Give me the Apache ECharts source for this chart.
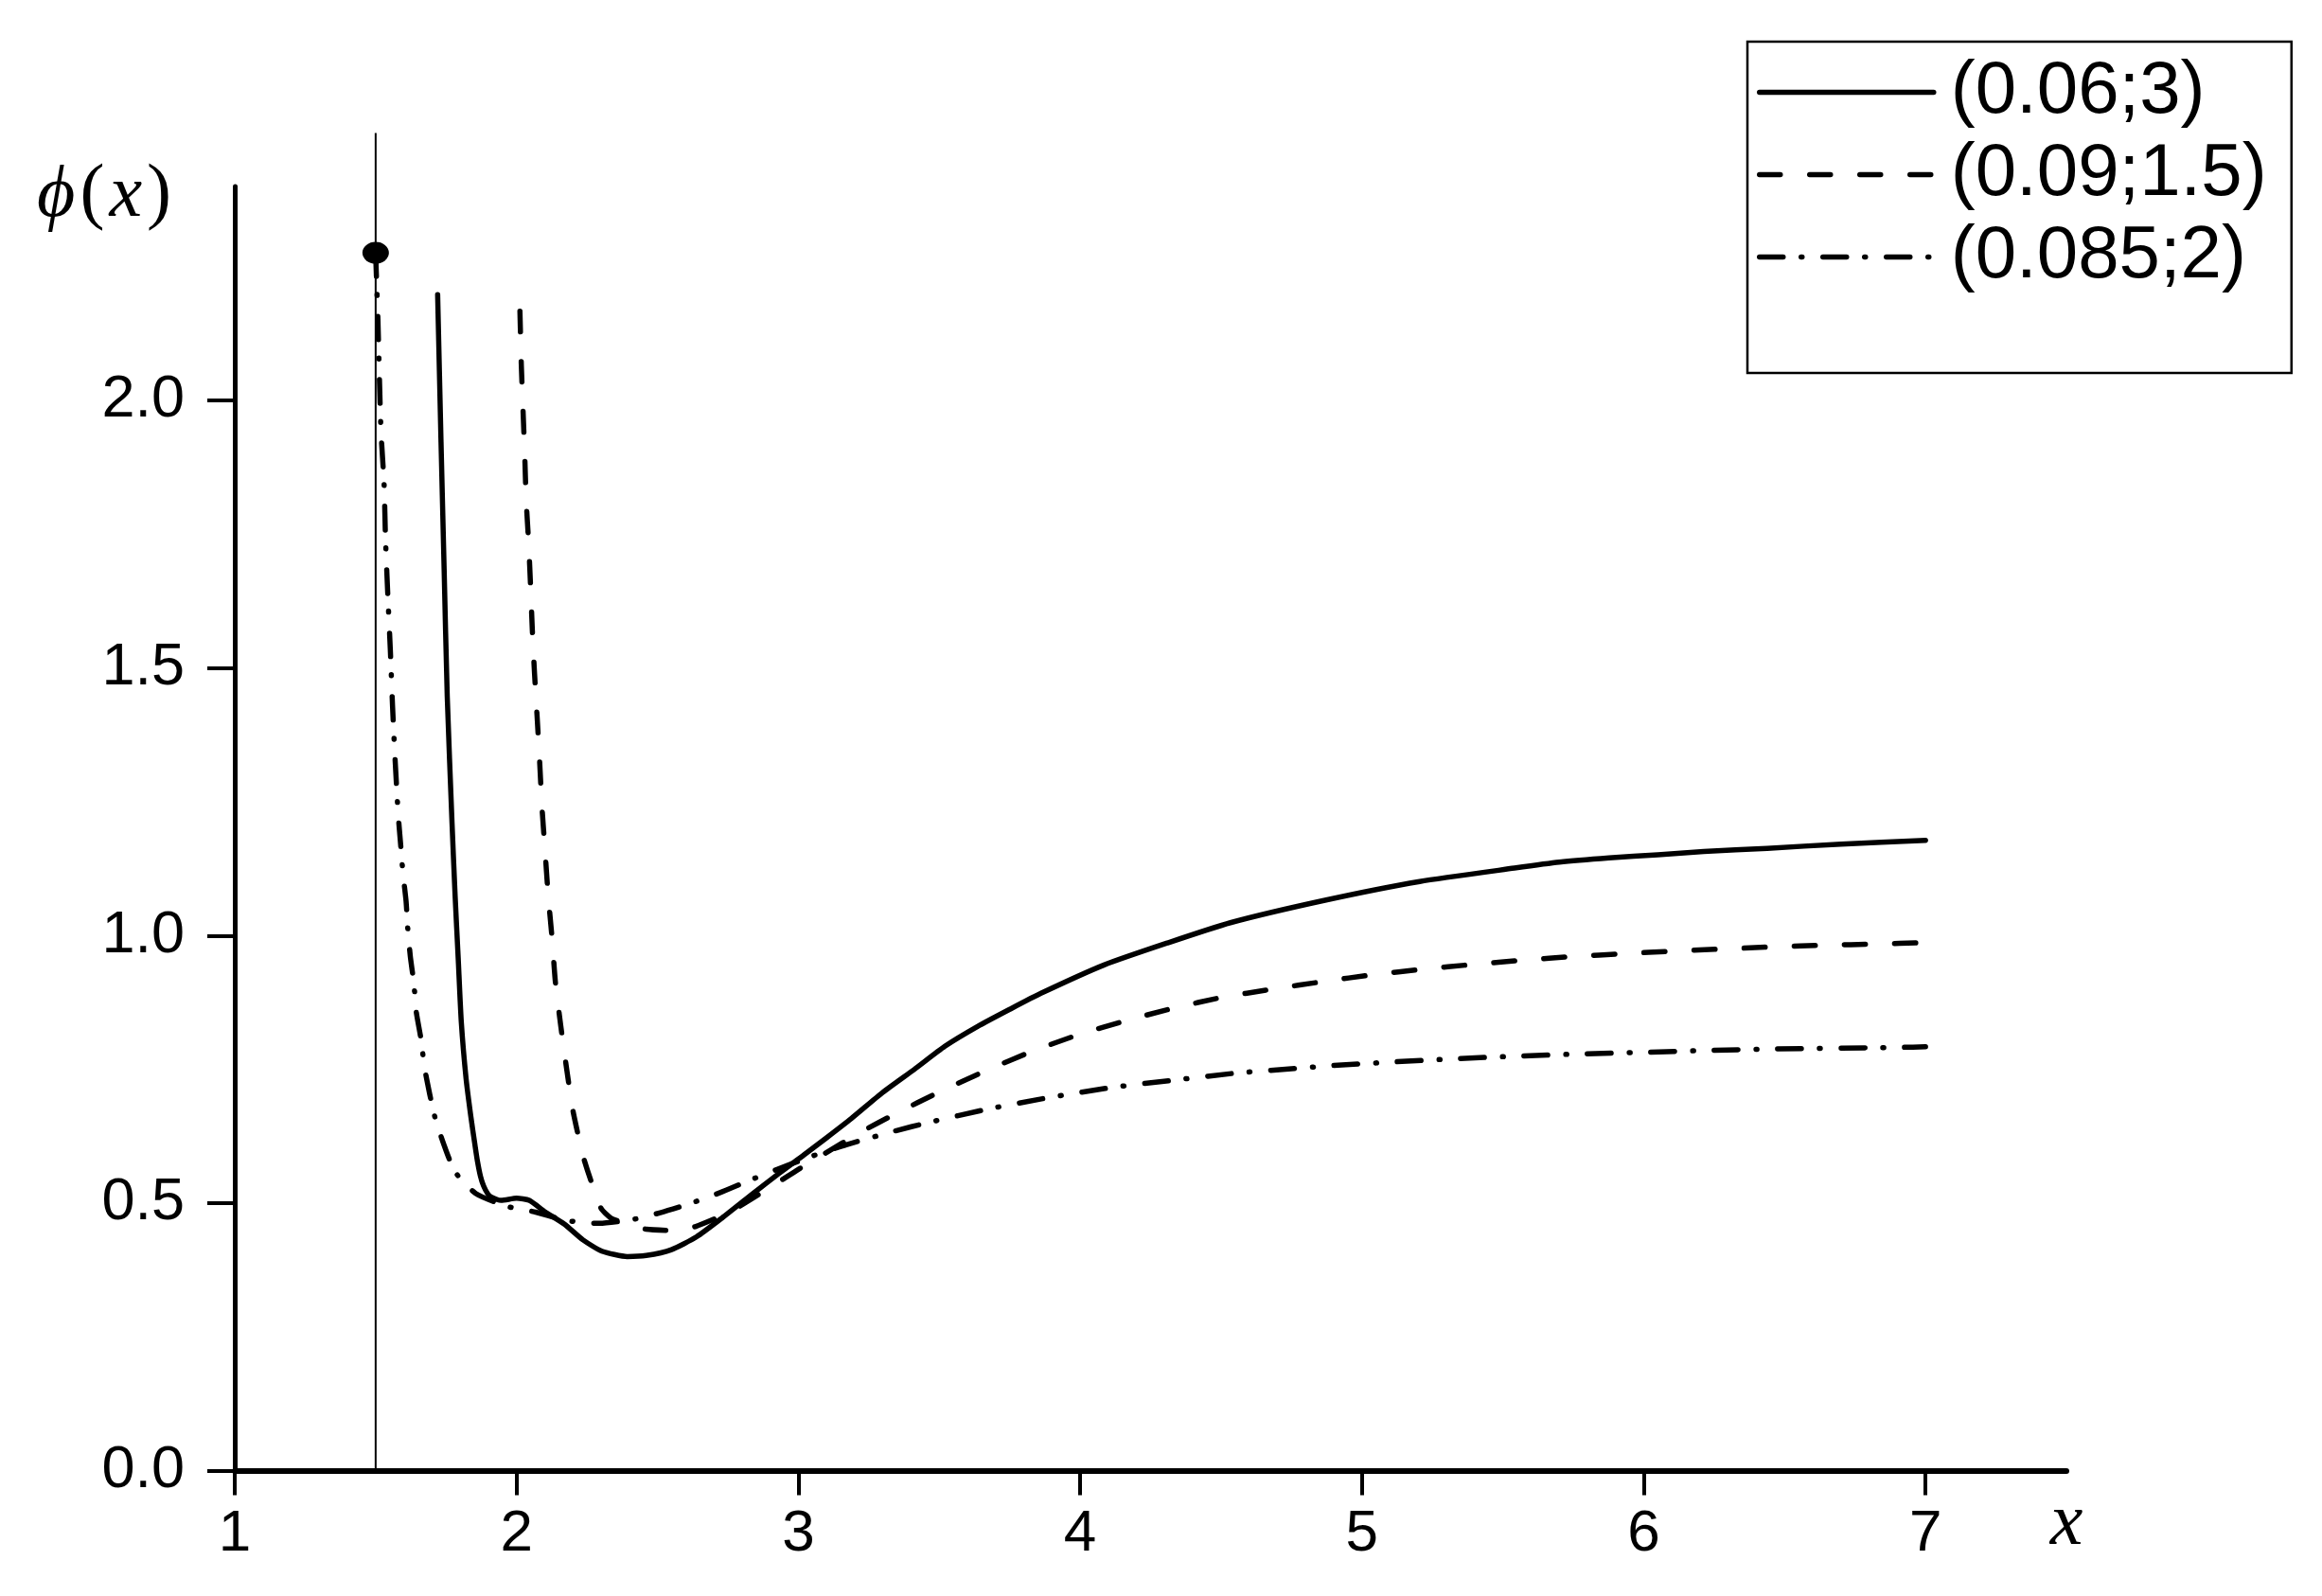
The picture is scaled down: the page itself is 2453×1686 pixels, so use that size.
<!DOCTYPE html>
<html>
<head>
<meta charset="utf-8">
<script src="https://cdn.jsdelivr.net/npm/echarts@6/dist/echarts.min.js"></script>
<style>
  html, body { margin: 0; padding: 0; background: #fff; }
  #chart { width: 2453px; height: 1686px; }
</style>
</head>
<body>
<div id="chart"></div>
<script>
// legend labels
const seriesNames = ['(0.06;3)', '(0.09;1.5)', '(0.085;2)']

// tick values
const xTicks = [1, 2, 3, 4, 5, 6, 7]
const yTicks = [0, 0.5, 1.0, 1.5, 2.0]

// (0.06;3) solid
const solid = [
  [1.72, 2.198], [1.732, 1.922], [1.743, 1.685], [1.754, 1.448], [1.771, 1.211],
  [1.782, 1.074], [1.793, 0.957], [1.804, 0.838], [1.821, 0.732], [1.838, 0.661],
  [1.852, 0.61], [1.861, 0.579], [1.872, 0.55], [1.883, 0.532], [1.897, 0.518],
  [1.911, 0.511], [1.945, 0.505], [2.0, 0.509], [2.045, 0.505], [2.10, 0.484],
  [2.169, 0.461], [2.236, 0.431], [2.303, 0.41], [2.393, 0.4], [2.46, 0.402],
  [2.55, 0.413], [2.639, 0.437], [2.729, 0.472], [2.83, 0.514], [2.93, 0.555],
  [3.02, 0.59], [3.1, 0.622], [3.188, 0.658], [3.3, 0.707], [3.412, 0.75],
  [3.52, 0.793], [3.636, 0.83], [3.75, 0.862], [3.861, 0.892], [4.085, 0.945],
  [4.309, 0.986], [4.533, 1.024], [4.869, 1.066], [5.205, 1.101], [5.541, 1.126],
  [5.7, 1.137], [5.877, 1.145], [6.05, 1.151], [6.213, 1.157], [6.438, 1.163],
  [6.7, 1.171], [7.0, 1.178]
]

// (0.09;1.5) dashed
const dashed = [
  [2.012, 2.167], [2.017, 2.065], [2.023, 1.982], [2.029, 1.899], [2.034, 1.816],
  [2.043, 1.733], [2.05, 1.65], [2.056, 1.571], [2.064, 1.488], [2.073, 1.409],
  [2.082, 1.325], [2.09, 1.242], [2.101, 1.16], [2.112, 1.077], [2.126, 0.995],
  [2.138, 0.912], [2.157, 0.831], [2.178, 0.75], [2.2, 0.673], [2.236, 0.588],
  [2.265, 0.54], [2.3, 0.49], [2.335, 0.472], [2.38, 0.463], [2.46, 0.451],
  [2.555, 0.449], [2.634, 0.456], [2.759, 0.484], [2.908, 0.532], [3.0, 0.563],
  [3.098, 0.594], [3.22, 0.632], [3.345, 0.667], [3.502, 0.708], [3.664, 0.747],
  [3.827, 0.783], [3.99, 0.814], [4.163, 0.841], [4.337, 0.865], [4.5, 0.884],
  [4.684, 0.9], [4.863, 0.914], [5.043, 0.927], [5.216, 0.937], [5.395, 0.946],
  [5.575, 0.954], [5.754, 0.961], [5.928, 0.966], [6.107, 0.971], [6.286, 0.975],
  [6.466, 0.979], [6.645, 0.982], [6.824, 0.984], [7.0, 0.987]
]

// (0.085;2) dash-dot
const dashDot = [
  [1.5, 2.276], [1.502, 2.243], [1.508, 2.152], [1.513, 2.049], [1.519, 1.942],
  [1.53, 1.843], [1.535, 1.741], [1.543, 1.638], [1.552, 1.535], [1.56, 1.428],
  [1.569, 1.329], [1.58, 1.227], [1.589, 1.168], [1.597, 1.116], [1.608, 1.064],
  [1.614, 1.013], [1.623, 0.961], [1.636, 0.909], [1.644, 0.858], [1.661, 0.806],
  [1.673, 0.755], [1.692, 0.703], [1.713, 0.655], [1.745, 0.605], [1.782, 0.558],
  [1.855, 0.518], [1.965, 0.494], [2.068, 0.483], [2.182, 0.467], [2.294, 0.462],
  [2.42, 0.47], [2.51, 0.482], [2.615, 0.499], [2.72, 0.519], [2.82, 0.541],
  [2.925, 0.563], [3.05, 0.588], [3.17, 0.609], [3.345, 0.635], [3.457, 0.65],
  [3.676, 0.676], [3.888, 0.697], [4.113, 0.716], [4.337, 0.73], [4.555, 0.743],
  [4.673, 0.748], [4.897, 0.757], [5.121, 0.764], [5.345, 0.77], [5.569, 0.775],
  [5.793, 0.779], [6.017, 0.782], [6.202, 0.785], [6.466, 0.788], [6.914, 0.791],
  [7.0, 0.792]
]

// vertical marker at x = 1.5 and the start dot
const markerLine = [[1.5, 0], [1.5, 2.5]]
const startDot = [[1.5, 2.276]]

const X_MIN = 1, X_MAX = 7.5, Y_MIN = 0, Y_MAX = 2.4

const sans = "'Liberation Sans', Arial, sans-serif"
const serif = "'Liberation Serif', 'DejaVu Serif', 'Times New Roman', serif"

const chart = echarts.init(document.getElementById('chart'), null, { renderer: 'canvas' })

const curve = (name, data, type) => ({
  name, type: 'line', data,
  symbol: 'none', smooth: 0.2,
  lineStyle: { color: '#000', width: 5.5, type, cap: 'round', join: 'round' },
  itemStyle: { color: '#000' },
  z: 3
})

chart.setOption({
  backgroundColor: '#fff',
  animation: false,
  grid: { left: 248, right: 270, top: 197, bottom: 132.5 },
  legend: {
    data: seriesNames,
    orient: 'vertical',
    left: 1846, top: 44,
    padding: [10, 10, 79, 10],
    itemGap: 0,
    itemWidth: 184, itemHeight: 2,
    borderColor: '#000', borderWidth: 2.5,
    lineStyle: { width: 5.5 },
    itemStyle: { opacity: 0 },
    textStyle: {
      fontFamily: sans, fontSize: 78, color: '#000',
      lineHeight: 87, width: 350, padding: [0, 0, 0, 13]
    }
  },
  xAxis: {
    type: 'value', min: X_MIN, max: X_MAX,
    axisLine: { onZero: false, lineStyle: { color: '#000', width: 6 } },
    axisTick: { customValues: xTicks, length: 26, lineStyle: { color: '#000', width: 4 } },
    axisLabel: { customValues: xTicks, fontFamily: sans, fontSize: 62, color: '#000', margin: 36 },
    splitLine: { show: false }
  },
  yAxis: {
    type: 'value', min: Y_MIN, max: Y_MAX,
    axisLine: { lineStyle: { color: '#000', width: 5 } },
    axisTick: { customValues: yTicks, length: 29, lineStyle: { color: '#000', width: 4 } },
    axisLabel: {
      customValues: yTicks,
      fontFamily: sans, fontSize: 63, color: '#000', margin: 53,
      formatter: v => v.toFixed(1)
    },
    splitLine: { show: false }
  },
  series: [
    curve(seriesNames[0], solid, 'solid'),
    curve(seriesNames[1], dashed, [22, 31]),
    curve(seriesNames[2], dashDot, [25, 19, 1, 22]),
    {
      type: 'line', data: markerLine, symbol: 'none', clip: false, silent: true,
      lineStyle: { color: '#000', width: 2 }, z: 2
    },
    {
      type: 'scatter', data: startDot, symbol: 'circle', symbolSize: [28, 23],
      itemStyle: { color: '#000', opacity: 1 }, silent: true, z: 5
    }
  ]
})

// axis titles, placed from the axis ends
const yTop = chart.convertToPixel({ gridIndex: 0 }, [X_MIN, Y_MAX])
const xEnd = chart.convertToPixel({ gridIndex: 0 }, [X_MAX, Y_MIN])
chart.setOption({
  graphic: [
    {
      type: 'text', x: yTop[0] - 65, y: yTop[1] + 10,
      style: {
        text: '{i|ϕ}{r|(}{i|x}{r|)}', align: 'right', verticalAlign: 'middle',
        rich: {
          i: { fontFamily: serif, fontStyle: 'italic', fontSize: 78, fill: '#000', padding: [0, 3, 0, 3] },
          r: { fontFamily: serif, fontSize: 78, fill: '#000', padding: [0, 2, 0, 2] }
        }
      }
    },
    {
      type: 'text', x: xEnd[0], y: xEnd[1] + 57,
      style: {
        text: 'x', align: 'center', verticalAlign: 'middle',
        fontFamily: serif, fontStyle: 'italic', fontSize: 78, fill: '#000'
      }
    }
  ]
})

window.addEventListener('resize', () => chart.resize())
</script>
</body>
</html>
